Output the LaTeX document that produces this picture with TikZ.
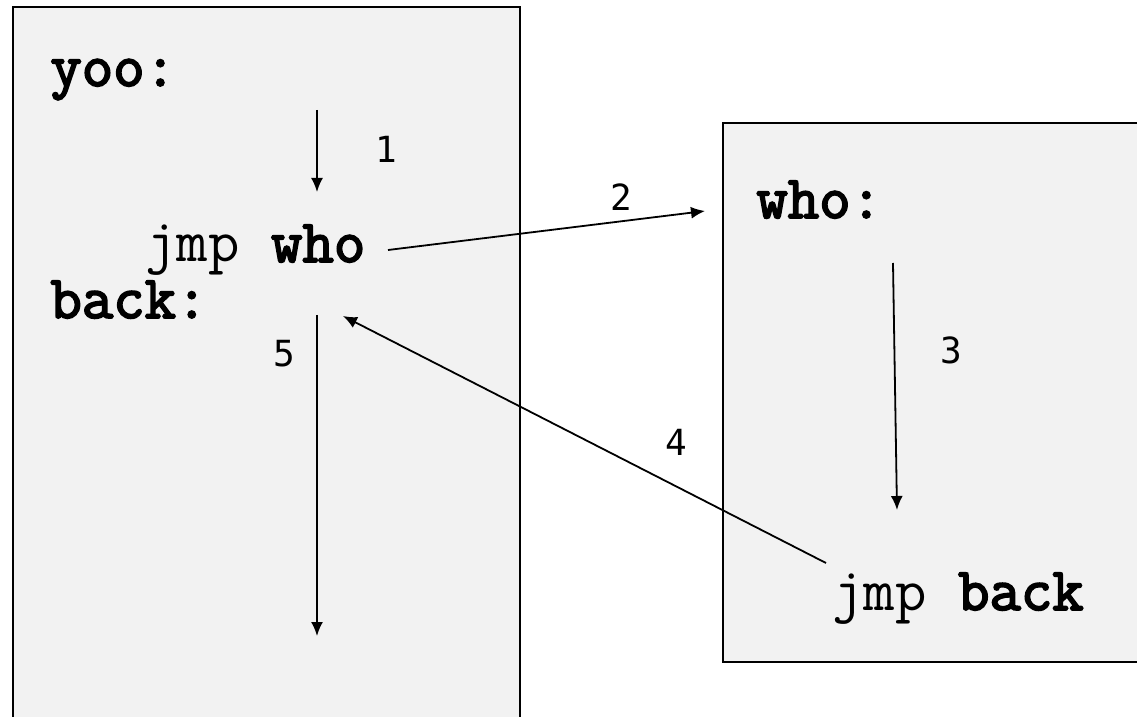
\documentclass[tikz,border=0pt]{standalone}
\usepackage{fontspec}
\setmonofont{Latin Modern Mono}[BoldFont={Latin Modern Mono}, BoldFeatures={FakeBold=3}]
\newfontfamily\labelfont{DejaVu Sans Mono}
\usetikzlibrary{arrows.meta}
\definecolor{boxgray}{HTML}{F2F2F2}
\tikzset{
  codebox/.style={draw=black, fill=boxgray, line width=1pt},
  code/.style={inner sep=0pt, anchor=base west, font=\ttfamily\fontsize{30.5}{36}\selectfont},
  steplabel/.style={inner sep=0pt, font=\labelfont\fontsize{18}{22}\selectfont},
  flow/.style={line width=0.9pt, -{Latex[length=7pt,width=6pt]}}
}
\begin{document}
\begin{tikzpicture}[x=0.5pt,y=-0.5pt]

\clip (0,0) rectangle (1137,717);
\fill[white] (0,0) rectangle (1137,717);

% Draw the boxes
\draw[codebox] (13,7) rectangle (520,730);
\draw[codebox] (723,123) rectangle (1150,662);

% Draw the code
\node[code] (yoo) at (50,86) {\textbf{yoo:}};
\node[code] (jmpwho) at (145,262) {jmp \textbf{who}};
\node[code] (back) at (50,318) {\textbf{back:}};
\node[code] (who) at (756,218) {\textbf{who:}};
\node[code] (jmpback) at (832,610) {jmp \textbf{back}};

% Arrow ends
\coordinate (a1s) at (317,110);
\coordinate (a1e) at (317,192);
\coordinate (a2s) at (388,250);
\coordinate (a2e) at (705,211);
\coordinate (a3s) at (893,263);
\coordinate (a3e) at (897,510);
\coordinate (a4s) at (826,563);
\coordinate (a4e) at (343,316);
\coordinate (a5s) at (317,315);
\coordinate (a5e) at (317,636);

% Draw the jumps
\draw[flow] (a1s) -- (a1e);
\draw[flow] (a2s) -- (a2e);
\draw[flow] (a3s) -- (a3e);
\draw[flow] (a4s) -- (a4e);
\draw[flow] (a5s) -- (a5e);

% Draw the step numbers
\node[steplabel] (n1) at (386,149) {1};
\node[steplabel] (n2) at (621,197) {2};
\node[steplabel] (n3) at (951,350) {3};
\node[steplabel] (n4) at (676,442) {4};
\node[steplabel] (n5) at (284,354) {5};

\end{tikzpicture}
\end{document}
